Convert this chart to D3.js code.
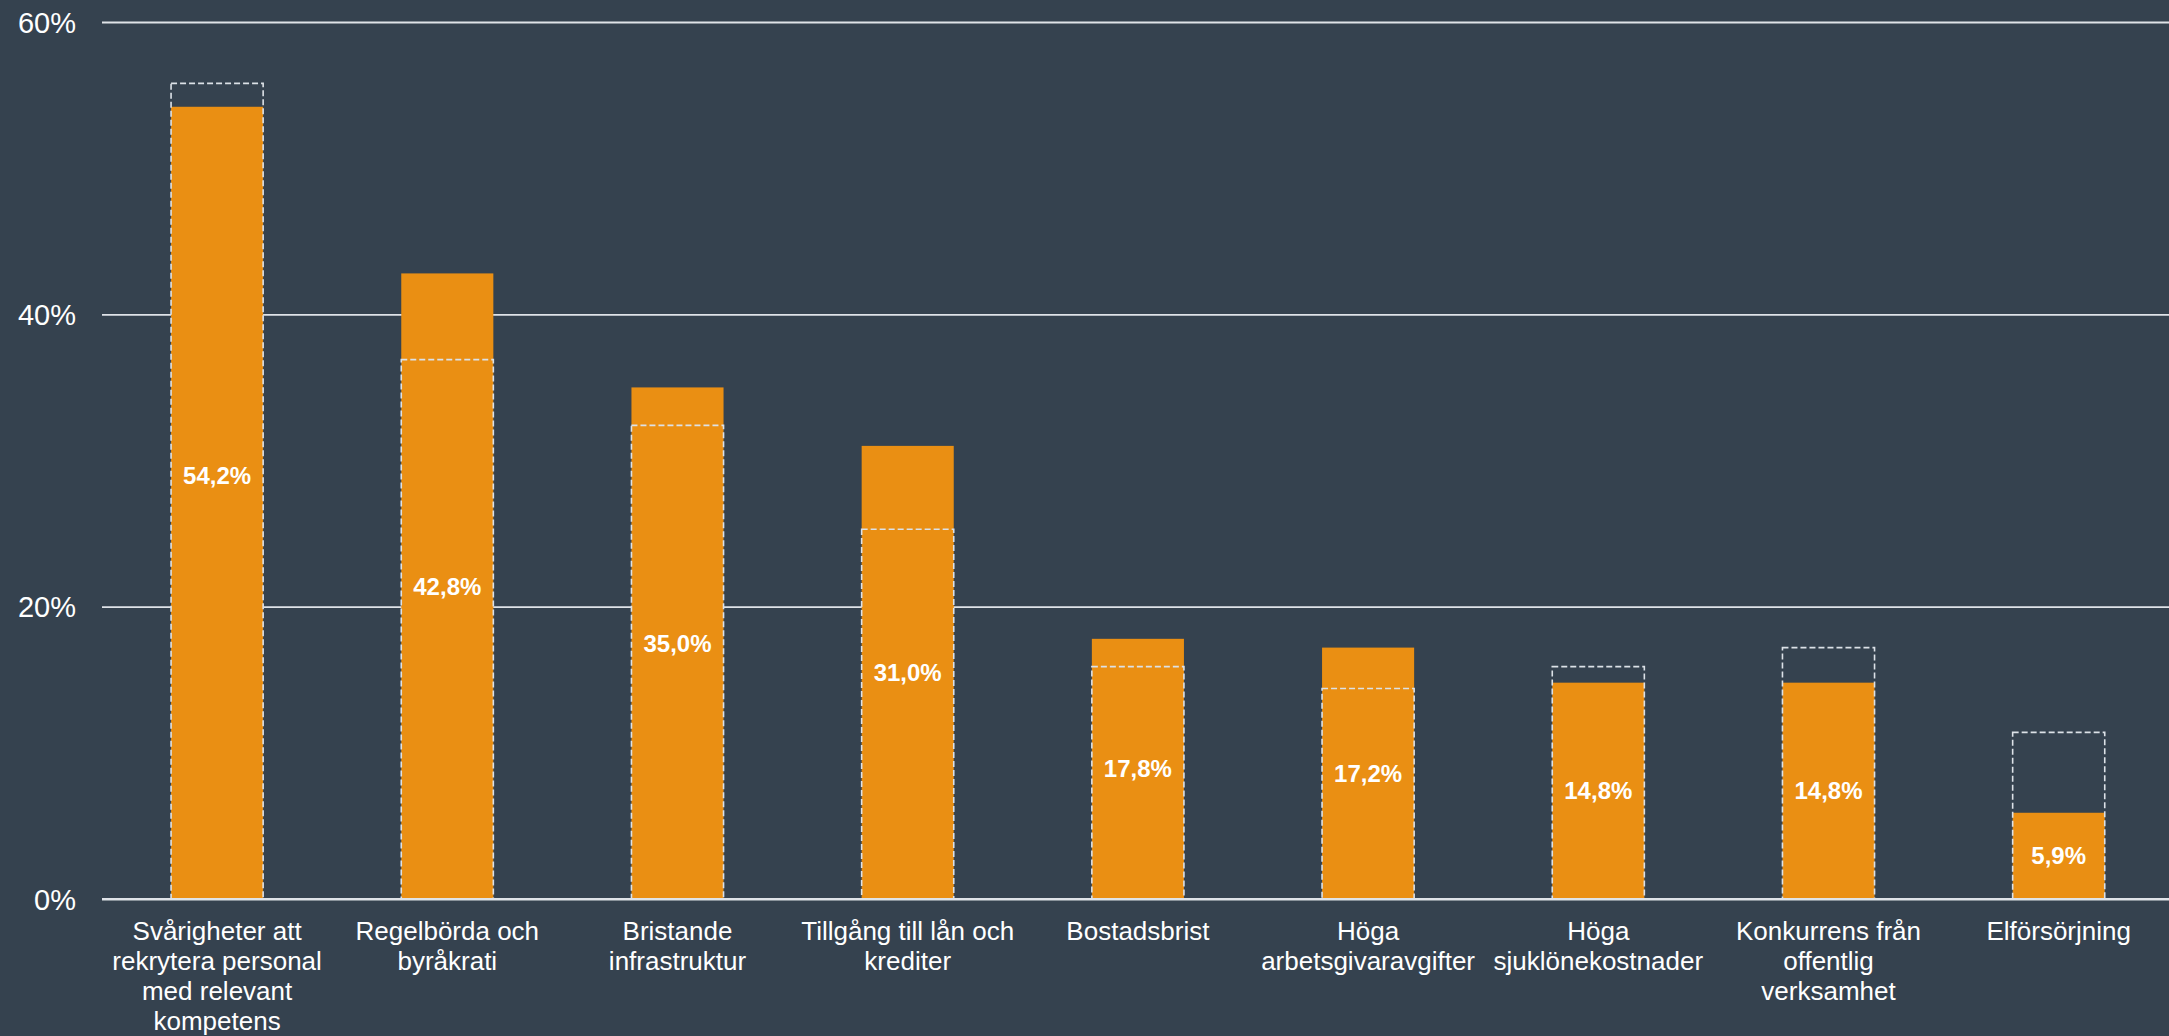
<!DOCTYPE html>
<html><head><meta charset="utf-8">
<script src="https://cdn.jsdelivr.net/npm/d3@7"></script>
<style>
html,body{margin:0;padding:0;background:#35424f;}
svg{display:block;}
</style></head>
<body>
<svg id="chart" width="2169" height="1036"></svg>
<script>
const categories = [
  "Svårigheter att\nrekrytera personal\nmed relevant\nkompetens",
  "Regelbörda och\nbyråkrati",
  "Bristande\ninfrastruktur",
  "Tillgång till lån och\nkrediter",
  "Bostadsbrist",
  "Höga\narbetsgivaravgifter",
  "Höga\nsjuklönekostnader",
  "Konkurrens från\noffentlig\nverksamhet",
  "Elförsörjning"
];
const currentValues = [54.2, 42.8, 35.0, 31.0, 17.8, 17.2, 14.8, 14.8, 5.9];
const previousValues = [55.8, 36.9, 32.4, 25.3, 15.9, 14.4, 15.9, 17.2, 11.4];
const yTicks = [0, 20, 40, 60];
const yTickLabels = ["0%", "20%", "40%", "60%"];

(function () {
const svg = d3.select("#chart");
const W = 2169, H = 1036;
const mLeft = 102, mTop = 22, mBottom = 899;

svg.append("rect").attr("width", W).attr("height", H).attr("fill", "#35424f");

const x = d3.scaleBand().domain(d3.range(categories.length))
  .range([mLeft, mLeft + 230.2 * 9]).paddingInner(0.6).paddingOuter(0.3);
const y = d3.scaleLinear().domain([0, 60]).range([mBottom, mTop]);

const yAxis = d3.axisLeft(y).tickValues(yTicks)
  .tickFormat((d, i) => yTickLabels[i]).tickSize(-(W - mLeft)).tickPadding(26);
const gy = svg.append("g").attr("transform", `translate(${mLeft},0)`).call(yAxis);
gy.select(".domain").remove();
gy.selectAll(".tick line").attr("stroke", "#dfe3e8").attr("stroke-width", 1.8);
gy.selectAll(".tick text").attr("fill", "#ffffff")
  .attr("font-family", "'Liberation Sans', Arial, sans-serif")
  .attr("font-size", 29).attr("dy", "0.35em");

const data = categories.map((c, i) => ({i, c, v: currentValues[i], p: previousValues[i]}));
svg.append("g").selectAll("rect").data(data).join("rect")
  .attr("x", d => x(d.i)).attr("width", x.bandwidth())
  .attr("y", d => y(d.v)).attr("height", d => y(0) - y(d.v))
  .attr("fill", "#ea8f13");

svg.append("g").selectAll("rect").data(data).join("rect")
  .attr("x", d => x(d.i)).attr("width", x.bandwidth())
  .attr("y", d => y(d.p)).attr("height", d => y(0) - y(d.p))
  .attr("fill", "none").attr("stroke", "#dce1e7").attr("stroke-width", 1.6)
  .attr("stroke-dasharray", "6,3");

svg.append("line").attr("x1", mLeft).attr("x2", W).attr("y1", y(0)).attr("y2", y(0))
  .attr("stroke", "#dfe3e8").attr("stroke-width", 1.8);

svg.append("g").selectAll("text").data(data).join("text")
  .attr("x", d => x(d.i) + x.bandwidth() / 2)
  .attr("y", d => (y(0) + y(d.v)) / 2 - (d.i === 0 ? 27 : 0))
  .attr("dy", "0.35em").attr("text-anchor", "middle")
  .attr("fill", "#ffffff").attr("font-weight", "bold")
  .attr("font-family", "'Liberation Sans', Arial, sans-serif").attr("font-size", 24)
  .text(d => d.v.toFixed(1).replace(".", ",") + "%");

const cl = svg.append("g").selectAll("text").data(data).join("text")
  .attr("x", d => x(d.i) + x.bandwidth() / 2)
  .attr("y", 940).attr("text-anchor", "middle")
  .attr("fill", "#ffffff")
  .attr("font-family", "'Liberation Sans', Arial, sans-serif").attr("font-size", 26);
cl.selectAll("tspan").data(d => d.c.split("\n").map(t => ({t, cx: x(d.i) + x.bandwidth() / 2})))
  .join("tspan").attr("x", t => t.cx).attr("dy", (t, j) => j === 0 ? 0 : 30).text(t => t.t);
})();
</script>
</body></html>
